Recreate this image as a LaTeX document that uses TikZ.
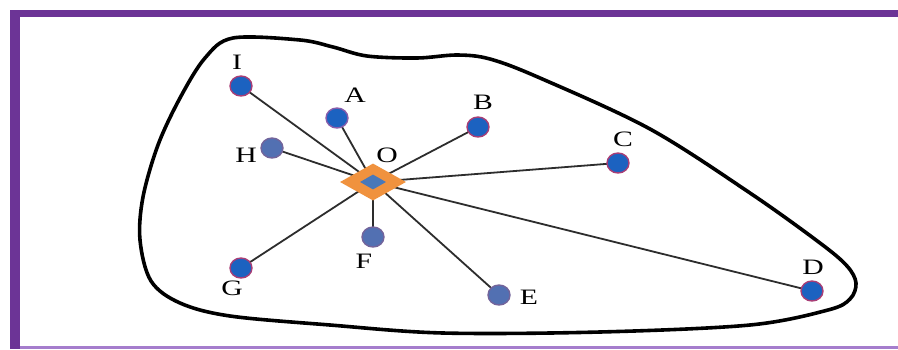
\documentclass[tikz,border=0pt]{standalone}
\usepackage{fontspec}
\setmainfont{Liberation Serif}
\usetikzlibrary{shapes.geometric,backgrounds}
\definecolor{framepurple}{RGB}{108,52,150}
\definecolor{framelight}{RGB}{165,125,205}
\definecolor{dotblue}{RGB}{28,98,192}
\definecolor{dotrim}{RGB}{168,62,118}
\definecolor{dotgray}{RGB}{82,112,178}
\definecolor{dotgrayrim}{RGB}{115,100,155}
\definecolor{diaorange}{RGB}{240,146,62}
\definecolor{diablue}{RGB}{72,120,185}
\definecolor{edgegray}{RGB}{45,45,45}
\tikzset{
  dotnode/.style={ellipse, minimum width=22pt, minimum height=20pt, inner sep=0pt, fill=dotblue, draw=dotrim, line width=1.4pt},
  dotgraynode/.style={dotnode, fill=dotgray, draw=dotgrayrim},
  lbl/.style={inner sep=0pt, font=\fontsize{22}{25}\selectfont, xscale=1.35, text=black},
  edge/.style={draw=edgegray, line width=1.8pt},
  contour/.style={draw=black, line width=3.6pt}
}
\begin{document}
\begin{tikzpicture}[x=1pt,y=-1pt]
\useasboundingbox (0,0) rectangle (898,349);
% frame
\fill[framepurple] (10,10) rectangle (898,17);
\fill[framepurple] (10,10) rectangle (20,349);
\fill[framelight] (20,346) rectangle (898,349);
% contour
\draw[contour] plot[smooth cycle, tension=0.55] coordinates {
 (233,38) (300,40) (333,47) (367,56) (417,58) (457,55) (490,59) (540,78)
 (650,129) (750,193) (820,243) (847,266) (856,283) (850,299) (828,310)
 (750,325) (600,332) (443,333) (330,325) (230,316) (180,303) (151,281)
 (140,240) (143,197) (158,145) (180,98) (205,58)};
% diamond
\node[diamond, fill=diaorange, inner sep=0pt, minimum width=66pt, minimum height=37pt] (o) at (373,182) {};
\node[diamond, fill=diablue, inner sep=0pt, minimum width=26pt, minimum height=15pt] (oi) at (373,182) {};
% dots
\node[dotnode] (i) at (241,86) {};
\node[dotnode, draw=framepurple!80] (a) at (337,118) {};
\node[dotnode] (b) at (478,127) {};
\node[dotnode] (c) at (618,163) {};
\node[dotnode] (d) at (812,291) {};
\node[dotgraynode] (e) at (499,295) {};
\node[dotgraynode] (f) at (373,237) {};
\node[dotnode] (g) at (241,268) {};
\node[dotgraynode] (h) at (272,148) {};
% labels
\node[lbl] (li) at (237,62) {I};
\node[lbl] (la) at (355,95) {A};
\node[lbl] (lb) at (483,102) {B};
\node[lbl] (lc) at (623,139) {C};
\node[lbl] (ld) at (813,267) {D};
\node[lbl] (le) at (529,297) {E};
\node[lbl] (lf) at (364,261) {F};
\node[lbl] (lg) at (232,288) {G};
\node[lbl] (lh) at (246,155) {H};
\node[lbl] (lo) at (387,155) {O};
% edges
\begin{scope}[on background layer]
\fill[white] (0,0) rectangle (898,349);
\foreach \t in {a,b,c,d,e,f,g,h,i}{
  \draw[edge] (o.center) -- (\t.center);
}
\end{scope}
\end{tikzpicture}
\end{document}
